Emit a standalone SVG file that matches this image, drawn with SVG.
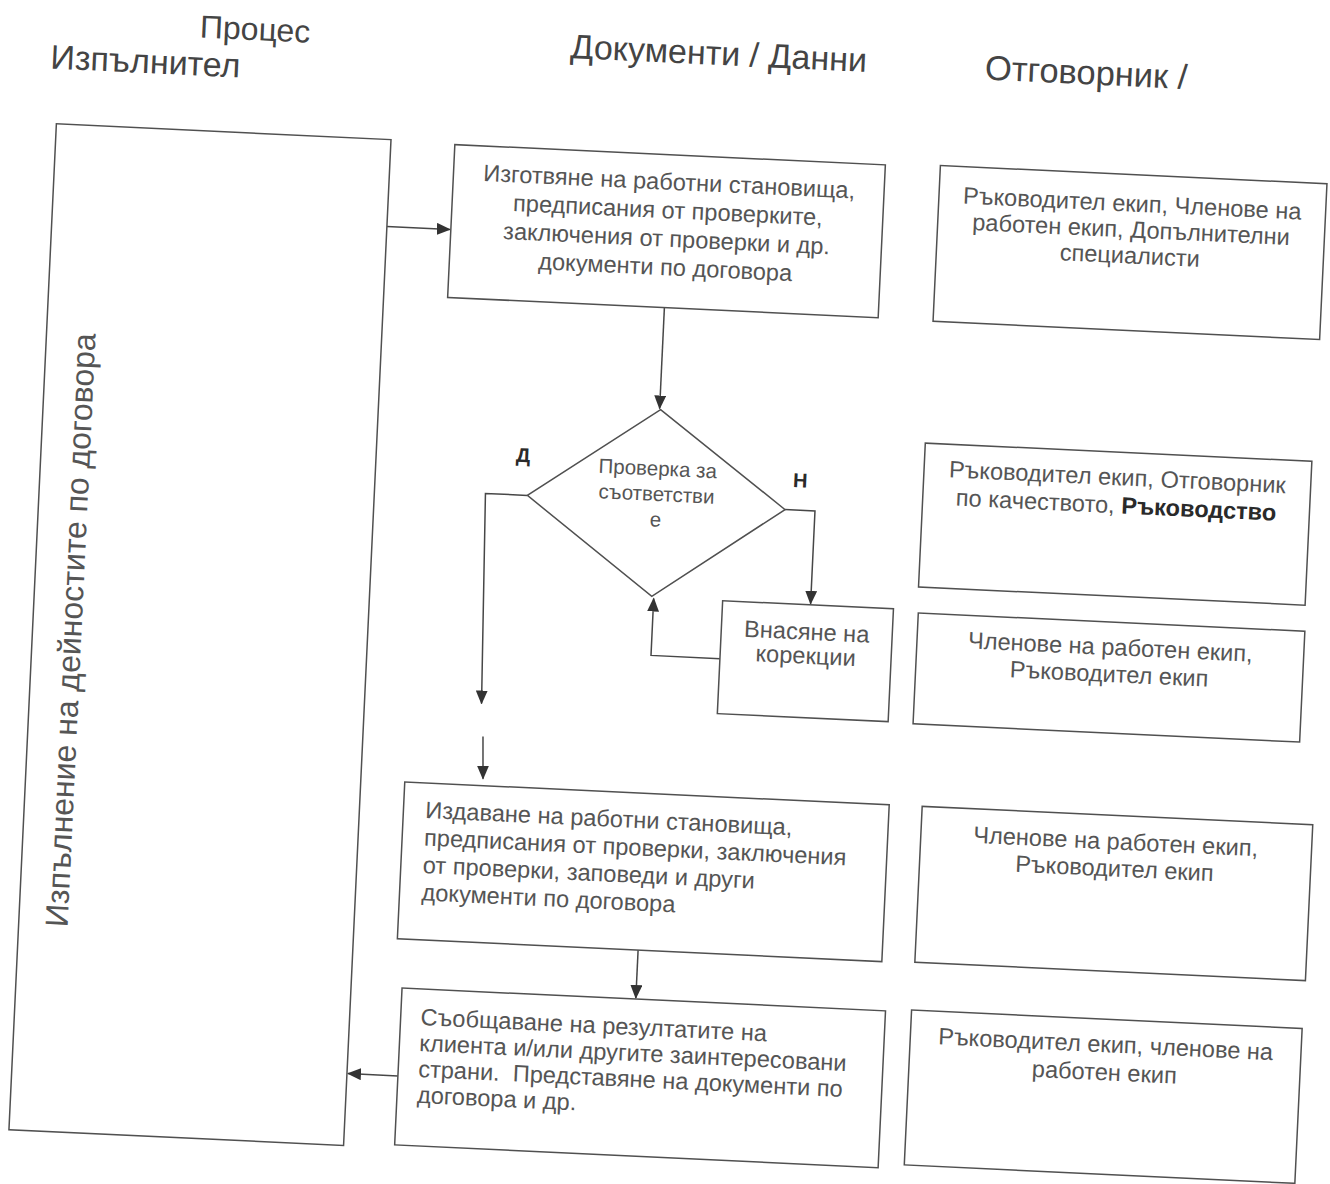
<svg xmlns="http://www.w3.org/2000/svg" width="1330" height="1184" viewBox="0 0 1330 1184">
<style>
.box{fill:#fff;stroke:#505050;stroke-width:1.5}
.t{font-family:"Liberation Sans",Arial,sans-serif;fill:#555;font-size:23.6px}
.c{text-anchor:middle}
.h{fill:#444}
.b{font-weight:bold;fill:#2a2a2a}
.conn{fill:none;stroke:#474747;stroke-width:1.5}
</style>
<defs>
<marker id="ah" markerWidth="14" markerHeight="12" refX="13" refY="6" orient="auto" markerUnits="userSpaceOnUse"><path d="M0,0 L14,6 L0,12 z" fill="#333"/></marker>
</defs>
<rect width="1330" height="1184" fill="#fff"/>
<g transform="rotate(2.7 665 592)">
<g id="headers" class="t h">
<text x="174" y="60" style="font-size:32px">Процес</text>
<text x="26" y="98" style="font-size:34px">Изпълнител</text>
<text x="545" y="63" style="font-size:34px">Документи / Данни</text>
<text x="960" y="65" style="font-size:34.5px">Отговорник /</text>
</g>
<g id="connectors" class="conn">
<path d="M370,240 H433" marker-end="url(#ah)"/>
<path d="M651,308 V409" marker-end="url(#ah)"/>
<path d="M523,502 H481 L487,712" marker-end="url(#ah)"/>
<path d="M490,745 L492,787" marker-end="url(#ah)"/>
<path d="M781,504 H811 V597" marker-end="url(#ah)"/>
<path d="M723,656 H654 V599" marker-end="url(#ah)"/>
<path d="M655,951 V999" marker-end="url(#ah)"/>
<path d="M421,1088 H371" marker-end="url(#ah)"/>
</g>
<g id="lane">
<rect class="box" x="35" y="153" width="335" height="1007" fill="none"/>
<text class="t" transform="translate(84 658) rotate(-90)" text-anchor="middle" style="font-size:32px">Изпълнение на дейностите по договора</text>
</g>
<g id="doc1">
<rect class="box" x="434" y="155" width="431" height="153"/>
<text class="t c" x="650" y="190">Изготвяне на работни становища,</text>
<text class="t c" x="650" y="218.5">предписания от проверките,</text>
<text class="t c" x="650" y="247">заключения от проверки и др.</text>
<text class="t c" x="650" y="275.5">документи по договора</text>
</g>
<g id="decision">
<polygon class="box" points="652,410 781,504 652,597 523,502"/>
<text class="t c" x="652" y="476" style="font-size:20.5px">Проверка за</text>
<text class="t c" x="652" y="501.5" style="font-size:20.5px">съответстви</text>
<text class="t c" x="652" y="527" style="font-size:20.5px">е</text>
</g>
<text class="t b c" x="517" y="469" style="font-size:20px">Д</text>
<text class="t b c" x="795" y="481" style="font-size:20px">Н</text>
<g id="corr">
<rect class="box" x="723" y="598" width="171" height="113"/>
<text class="t c" x="808.5" y="633">Внасяне на</text>
<text class="t c" x="808.5" y="657">корекции</text>
</g>
<g id="doc2">
<rect class="box" x="414" y="794" width="485" height="157"/>
<text class="t" x="436" y="829">Издаване на работни становища,</text>
<text class="t" x="436" y="856.5">предписания от проверки, заключения</text>
<text class="t" x="436" y="884">от проверки, заповеди и други</text>
<text class="t" x="436" y="911.5">документи по договора</text>
</g>
<g id="doc3">
<rect class="box" x="421" y="1000" width="484" height="157"/>
<text class="t" x="441" y="1036">Съобщаване на резултатите на</text>
<text class="t" x="441" y="1062">клиента и/или другите заинтересовани</text>
<text class="t" x="441" y="1088">страни.&#160; Представяне на документи по</text>
<text class="t" x="441" y="1114">договора и др.</text>
</g>
<g id="r1">
<rect class="box" x="920" y="153" width="387" height="156"/>
<text class="t c" x="1113.5" y="190">Ръководител екип, Членове на</text>
<text class="t c" x="1113.5" y="216">работен екип, Допълнителни</text>
<text class="t c" x="1113.5" y="242">специалисти</text>
</g>
<g id="r2">
<rect class="box" x="918" y="431" width="387" height="144"/>
<text class="t c" x="1111.5" y="464">Ръководител екип, Отговорник</text>
<text class="t c" x="1111.5" y="492">по качеството, <tspan class="b">Ръководство</tspan></text>
</g>
<g id="r3">
<rect class="box" x="919" y="601" width="387" height="111"/>
<text class="t c" x="1112.5" y="634">Членове на работен екип,</text>
<text class="t c" x="1112.5" y="661">Ръководител екип</text>
</g>
<g id="r4">
<rect class="box" x="932" y="794" width="391" height="156"/>
<text class="t c" x="1127" y="828">Членове на работен екип,</text>
<text class="t c" x="1127" y="855">Ръководител екип</text>
</g>
<g id="r5">
<rect class="box" x="931" y="998" width="391" height="155"/>
<text class="t c" x="1126.5" y="1031">Ръководител екип, членове на</text>
<text class="t c" x="1126.5" y="1059">работен екип</text>
</g>
</g>
</svg>
